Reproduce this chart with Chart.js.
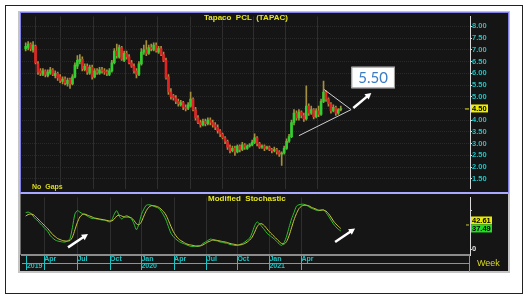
<!DOCTYPE html>
<html>
<head>
<meta charset="utf-8">
<script src="https://cdn.jsdelivr.net/npm/chart.js@4.4.1/dist/chart.umd.min.js"></script>
<style>
  body { margin: 0; width: 528px; height: 299px; background: #fff; position: relative; overflow: hidden; font-family: "Liberation Sans", Arial, sans-serif; }
  .abs { position: absolute; }
  .lbl { position: absolute; white-space: pre; font-weight: bold; line-height: 10px; }
</style>
</head>
<body>
<div class="abs" style="left:5px;top:5px;width:516px;height:287px;border:1px solid #222;"></div>
<div class="abs" style="left:18px;top:11px;width:492px;height:262px;background:#c4c4c4;"></div>
<div class="abs" style="left:20px;top:12px;width:488px;height:259px;background:#151515;"></div>
<canvas id="priceChart" class="abs" style="left:20px;top:12px;" width="489" height="181"></canvas>
<canvas id="stochChart" class="abs" style="left:20px;top:193px;" width="489" height="79"></canvas>
<div class="abs" style="left:20px;top:12px;width:487px;height:179px;border:1px solid #8282e6;border-bottom:2px solid #a9a9ff;"></div>
<div class="abs" style="left:20px;top:194px;width:1px;height:61px;background:#6c6c6c;"></div>

<div class="lbl" style="left:204px;top:13px;font-size:8px;color:#e6e622;">Tapaco  PCL  (TAPAC)</div>
<div class="lbl" style="left:32px;top:182px;font-size:7px;color:#d8d820;">No  Gaps</div>
<div class="lbl" style="left:208px;top:194px;font-size:8px;color:#e6e622;">Modified  Stochastic</div>
<div class="lbl" style="left:477px;top:258px;font-size:9px;font-weight:normal;color:#d8d820;">Week</div>

<script>
// weekly bars, Feb 2019 .. Jul 2021
const opens = [
  7.05, 7.10, 7.25, 7.00, 7.15, 6.40, 6.10, 5.95, 6.10, 5.90,
  6.00, 6.15, 5.90, 6.00, 5.85, 5.65, 5.75, 5.55, 5.75, 5.55,
  5.85, 6.30, 6.50, 6.60, 6.15, 6.30, 6.00, 6.25, 5.85, 6.10,
  6.00, 6.15, 6.10, 6.05, 5.95, 6.10, 6.45, 6.95, 6.70, 7.10,
  6.55, 6.85, 6.70, 6.45, 6.30, 6.10, 5.95, 6.40, 6.90, 7.00,
  6.85, 7.10, 7.00, 7.20, 6.90, 7.05, 6.80, 6.55, 5.85, 5.20,
  5.05, 4.95, 4.80, 4.65, 4.75, 4.55, 4.50, 4.60, 4.90, 4.45,
  4.10, 3.90, 3.80, 3.95, 3.85, 4.00, 3.90, 3.80, 3.70, 3.55,
  3.40, 3.25, 3.10, 2.85, 2.70, 2.80, 2.65, 2.90, 2.75, 2.95,
  2.80, 2.90, 2.95, 3.05, 3.25, 3.00, 2.85, 2.90, 2.80, 2.85,
  2.75, 2.70, 2.75, 2.65, 2.55, 2.60, 2.80, 3.10, 3.30, 3.90,
  4.30, 4.10, 4.35, 4.20, 4.05, 4.60, 4.30, 4.45, 4.15, 4.40,
  4.25, 4.80, 5.20, 4.90, 4.70, 4.40, 4.55, 4.30, 4.45
];
const highs = [
  7.30, 7.35, 7.30, 7.35, 7.20, 6.50, 6.20, 6.20, 6.15, 6.15,
  6.25, 6.20, 6.10, 6.05, 5.95, 5.85, 5.85, 5.80, 5.80, 5.95,
  6.45, 6.75, 6.80, 6.70, 6.40, 6.40, 6.35, 6.35, 6.20, 6.20,
  6.25, 6.25, 6.20, 6.15, 6.20, 6.55, 7.05, 7.25, 7.20, 7.15,
  6.95, 6.95, 6.80, 6.55, 6.40, 6.20, 6.50, 7.05, 7.20, 7.40,
  7.20, 7.25, 7.30, 7.30, 7.15, 7.15, 6.90, 6.65, 5.95, 5.35,
  5.10, 5.05, 4.90, 4.85, 4.80, 4.65, 4.75, 5.20, 4.95, 4.55,
  4.20, 4.00, 4.05, 4.05, 4.10, 4.10, 4.00, 3.90, 3.80, 3.60,
  3.45, 3.30, 3.15, 2.95, 2.90, 2.90, 2.95, 2.95, 3.05, 3.00,
  2.95, 3.00, 3.15, 3.42, 3.30, 3.05, 2.95, 2.95, 2.90, 2.90,
  2.80, 2.85, 2.80, 2.70, 2.65, 2.90, 3.20, 3.40, 4.00, 4.45,
  4.40, 4.45, 4.40, 4.30, 5.46, 4.70, 4.60, 4.50, 4.50, 4.60,
  4.90, 5.67, 5.25, 4.95, 4.75, 4.65, 4.60, 4.50, 4.60
];
const lows = [
  6.95, 7.00, 6.95, 6.90, 6.40, 5.95, 5.90, 5.90, 5.85, 5.85,
  5.95, 5.90, 5.80, 5.70, 5.60, 5.55, 5.50, 5.45, 5.35, 5.50,
  5.80, 6.20, 6.40, 6.10, 6.10, 5.95, 5.95, 5.75, 5.80, 5.95,
  5.95, 6.00, 5.95, 5.90, 5.90, 6.05, 6.40, 6.65, 6.65, 6.55,
  6.50, 6.60, 6.40, 6.25, 6.00, 5.80, 5.90, 6.35, 6.80, 6.75,
  6.80, 6.95, 6.95, 6.90, 6.85, 6.75, 6.50, 5.75, 5.10, 4.90,
  4.85, 4.70, 4.60, 4.60, 4.45, 4.40, 4.45, 4.55, 4.40, 4.00,
  3.85, 3.70, 3.75, 3.75, 3.80, 3.80, 3.70, 3.60, 3.45, 3.30,
  3.20, 3.00, 2.75, 2.60, 2.65, 2.50, 2.60, 2.65, 2.70, 2.75,
  2.75, 2.85, 2.90, 3.00, 2.90, 2.80, 2.80, 2.70, 2.75, 2.70,
  2.60, 2.65, 2.55, 2.45, 2.07, 2.55, 2.75, 3.05, 3.25, 3.80,
  4.00, 4.00, 4.10, 3.95, 4.00, 4.20, 4.25, 4.05, 4.10, 4.15,
  4.20, 4.75, 4.80, 4.60, 4.30, 4.35, 4.20, 4.25, 4.40
];
const closes = [
  7.15, 7.25, 7.05, 7.20, 6.45, 6.05, 6.00, 6.10, 5.95, 6.05,
  6.15, 5.95, 6.00, 5.80, 5.70, 5.75, 5.60, 5.70, 5.55, 5.85,
  6.35, 6.55, 6.60, 6.20, 6.30, 6.05, 6.25, 5.85, 6.10, 6.05,
  6.15, 6.10, 6.05, 6.00, 6.10, 6.45, 6.95, 6.75, 7.10, 6.60,
  6.85, 6.70, 6.45, 6.30, 6.10, 5.95, 6.40, 6.90, 7.00, 6.85,
  7.10, 7.05, 7.20, 6.95, 7.05, 6.80, 6.55, 5.80, 5.20, 5.00,
  4.95, 4.80, 4.70, 4.75, 4.55, 4.50, 4.65, 4.90, 4.45, 4.10,
  3.90, 3.80, 3.95, 3.85, 4.00, 3.90, 3.80, 3.70, 3.55, 3.40,
  3.25, 3.10, 2.85, 2.70, 2.80, 2.65, 2.90, 2.75, 2.95, 2.85,
  2.90, 2.95, 3.05, 3.25, 3.00, 2.85, 2.90, 2.80, 2.85, 2.75,
  2.70, 2.75, 2.65, 2.55, 2.60, 2.80, 3.10, 3.30, 3.90, 4.30,
  4.10, 4.35, 4.20, 4.05, 4.60, 4.30, 4.45, 4.15, 4.40, 4.25,
  4.80, 5.20, 4.90, 4.70, 4.40, 4.55, 4.30, 4.45, 4.50
];

// Modified Stochastic: fast (green) and slow (yellow)
const stochFast = [
  75, 76, 74, 68, 62, 58, 52, 47, 42, 36,
  28, 23, 19, 17, 16, 15, 15, 17, 22, 45,
  72, 79, 76, 73, 71, 68, 65, 63, 63, 62,
  61, 60, 60, 58, 56, 60, 72, 79, 68, 62,
  66, 69, 66, 62, 52, 40, 52, 71, 82, 90,
  91, 90, 88, 86, 84, 78, 70, 60, 46, 33,
  26, 21, 17, 14, 12, 10, 8, 6, 6, 6,
  6, 8, 12, 15, 18, 21, 20, 18, 17, 15,
  14, 13, 12, 10, 9, 8, 8, 10, 12, 15,
  19, 23, 34, 48, 56, 52, 46, 40, 33, 29,
  25, 21, 16, 11, 8, 14, 27, 45, 62, 75,
  88, 91, 92, 92, 90, 87, 84, 82, 80, 79,
  80, 81, 75, 68, 60, 52, 46, 41, 37.49
];
const stochSlow = [
  68, 71, 72, 71, 67, 62, 57, 52, 47, 42,
  36, 30, 26, 22, 20, 18, 17, 17, 18, 25,
  40, 55, 66, 71, 72, 70, 68, 66, 64, 63,
  62, 61, 60, 59, 58, 58, 62, 68, 70, 68,
  66, 66, 66, 64, 59, 52, 50, 56, 68, 79,
  86, 89, 89, 88, 86, 82, 77, 70, 59, 47,
  36, 28, 22, 18, 15, 12, 10, 9, 8, 7,
  7, 7, 9, 12, 15, 17, 19, 19, 18, 17,
  16, 15, 14, 12, 11, 10, 9, 9, 10, 12,
  15, 19, 25, 35, 46, 52, 52, 48, 42, 36,
  31, 26, 21, 16, 12, 11, 16, 28, 44, 60,
  73, 83, 88, 90, 90, 89, 86, 84, 82, 80,
  80, 80, 78, 73, 66, 58, 52, 47, 42.61
];

// date axis (week index from first bar)
const dateTicks = [0.5, 7.5, 21, 34.3, 47, 60.3, 73.6, 86, 99, 112];
const dateLabels = [['', '2019'], ['Apr'], ['Jul'], ['Oct'], ['Jan', '2020'], ['Apr'], ['Jul'], ['Oct'], ['Jan', '2021'], ['Apr']];

// drawn annotations, in (week, value)
const trendLower = [{ x: 111.0, y: 3.34 }, { x: 132.2, y: 4.45 }];
const trendUpper = [{ x: 121.2, y: 5.31 }, { x: 132.2, y: 4.45 }];
const priceArrow = [133.1, 4.52, 140.4, 5.16];
const targetBox = [132.3, 6.28, 150.0, 5.36];
const targetLabel = '5.50';
const stochArrows = [[17.2, 4, 25.3, 31.3], [125.7, 15, 133.8, 42.5]];

const weeks = closes.map((c, i) => i);
const xMin = -1.5, xMax = 180.5;
const CYAN = '#1cc4c4';
Chart.defaults.font.family = '"Liberation Sans", Arial, sans-serif';

function arrow(ctx, x1, y1, x2, y2) {
  const a = Math.atan2(y2 - y1, x2 - x1), h = 7;
  ctx.save();
  ctx.strokeStyle = '#fff';
  ctx.fillStyle = '#fff';
  ctx.lineWidth = 2.5;
  ctx.beginPath();
  ctx.moveTo(x1, y1);
  ctx.lineTo(x2 - Math.cos(a) * h * 0.7, y2 - Math.sin(a) * h * 0.7);
  ctx.stroke();
  ctx.beginPath();
  ctx.moveTo(x2, y2);
  ctx.lineTo(x2 - h * Math.cos(a - 0.5), y2 - h * Math.sin(a - 0.5));
  ctx.lineTo(x2 - h * Math.cos(a + 0.5), y2 - h * Math.sin(a + 0.5));
  ctx.closePath();
  ctx.fill();
  ctx.restore();
}

function valueBox(ctx, x, yc, w, text, bg) {
  ctx.fillStyle = bg;
  ctx.fillRect(x, yc - 4, w, 8);
  ctx.fillStyle = '#000';
  ctx.font = 'bold 7.5px "Liberation Sans", Arial';
  ctx.textBaseline = 'middle';
  ctx.textAlign = 'left';
  ctx.fillText(text, x + 1, yc + 0.5);
}

const priceOverlay = {
  id: 'priceOverlay',
  afterDraw(chart) {
    const { ctx, scales: { x, y } } = chart;
    arrow(ctx, x.getPixelForValue(priceArrow[0]), y.getPixelForValue(priceArrow[1]),
      x.getPixelForValue(priceArrow[2]), y.getPixelForValue(priceArrow[3]));

    const bx = x.getPixelForValue(targetBox[0]), by = y.getPixelForValue(targetBox[1]);
    const bw = x.getPixelForValue(targetBox[2]) - bx, bh = y.getPixelForValue(targetBox[3]) - by;
    ctx.fillStyle = '#fff';
    ctx.fillRect(bx, by, bw, bh);
    ctx.strokeStyle = '#9c9c9c';
    ctx.lineWidth = 1;
    ctx.strokeRect(bx + 0.5, by + 0.5, bw - 1, bh - 1);
    ctx.fillStyle = '#3b7cc4';
    ctx.font = '15px Lato, "Open Sans", sans-serif';
    ctx.textAlign = 'center';
    ctx.textBaseline = 'middle';
    ctx.fillText(targetLabel, bx + bw / 2, by + bh / 2 + 1);

    const last = closes[closes.length - 1];
    const ly = y.getPixelForValue(last);
    ctx.strokeStyle = '#e8e800';
    ctx.beginPath();
    ctx.moveTo(x.right - 5, ly + 0.5);
    ctx.lineTo(x.right - 1, ly + 0.5);
    ctx.stroke();
    valueBox(ctx, x.right + 1, ly, 17, last.toFixed(2), '#eeee00');
  }
};

const stochOverlay = {
  id: 'stochOverlay',
  afterDraw(chart) {
    const { ctx, scales: { x, y }, chartArea } = chart;
    stochArrows.forEach(a => arrow(ctx, x.getPixelForValue(a[0]), y.getPixelForValue(a[1]),
      x.getPixelForValue(a[2]), y.getPixelForValue(a[3])));

    // date strip rule
    ctx.strokeStyle = CYAN;
    ctx.lineWidth = 1;
    ctx.beginPath();
    ctx.moveTo(chartArea.left, chartArea.bottom + 8.5);
    ctx.lineTo(chartArea.right, chartArea.bottom + 8.5);
    ctx.moveTo(chartArea.right - 0.5, chartArea.bottom + 1);
    ctx.lineTo(chartArea.right - 0.5, chartArea.bottom + 17);
    ctx.stroke();

    const slow = stochSlow[stochSlow.length - 1], fast = stochFast[stochFast.length - 1];
    const yy = y.getPixelForValue(slow) - 8;
    ctx.strokeStyle = '#c8c83c';
    ctx.beginPath();
    ctx.moveTo(x.right - 4, yy + 4.5);
    ctx.lineTo(x.right - 1, yy + 4.5);
    ctx.stroke();
    valueBox(ctx, x.right + 1, yy, 21, slow.toFixed(2), '#e8e800');
    valueBox(ctx, x.right + 1, yy + 8, 21, fast.toFixed(2), '#22dd22');
  }
};

const monthGrid = {
  color: ctx => ctx.index === 0 ? 'rgba(0,0,0,0)' : '#2e2e2e',
};

new Chart(document.getElementById('priceChart'), {
  type: 'bar',
  data: {
    datasets: [
      { type: 'line', data: trendLower, borderColor: '#d0d0d0', borderWidth: 1, pointRadius: 0, order: 0 },
      { type: 'line', data: trendUpper, borderColor: '#d0d0d0', borderWidth: 1, pointRadius: 0, order: 0 },
      {
        data: weeks.map(i => ({ x: i, y: [opens[i], closes[i]] })),
        backgroundColor: weeks.map(i => closes[i] >= opens[i] ? '#2fd02f' : '#e02424'),
        barThickness: 2, grouped: false, order: 1
      },
      {
        data: weeks.map(i => ({ x: i, y: [lows[i], highs[i]] })),
        backgroundColor: '#a48f3e',
        barThickness: 1, grouped: false, order: 2
      }
    ]
  },
  options: {
    responsive: false,
    animation: false,
    events: [],
    layout: { padding: { left: 2, top: 1, bottom: 1, right: 0 } },
    plugins: { legend: { display: false }, tooltip: { enabled: false } },
    scales: {
      x: {
        type: 'linear', min: xMin, max: xMax, offset: false,
        afterBuildTicks: s => { s.ticks = dateTicks.map(v => ({ value: v })); },
        afterFit: s => { s.height = 0; },
        ticks: { display: false },
        grid: { ...monthGrid, drawTicks: false },
        border: { display: false }
      },
      y: {
        position: 'right', min: 1.086, max: 8.422,
        afterFit: s => { s.width = 39; },
        ticks: {
          stepSize: 0.5, includeBounds: false, color: CYAN, padding: 0,
          font: { size: 7.5, weight: 'bold' },
          callback: v => v === closes[closes.length - 1] ? '' : v.toFixed(2)
        },
        grid: { color: '#292929', tickColor: '#d8d8d8', tickLength: 2 },
        border: { color: '#d8d8d8', dash: [1, 1] }
      }
    }
  },
  plugins: [priceOverlay]
});

new Chart(document.getElementById('stochChart'), {
  type: 'line',
  data: {
    datasets: [
      { data: weeks.map(i => ({ x: i, y: stochSlow[i] })), borderColor: '#c8c83c', borderWidth: 1, pointRadius: 0, tension: 0.25 },
      { data: weeks.map(i => ({ x: i, y: stochFast[i] })), borderColor: '#2fc02f', borderWidth: 1, pointRadius: 0, tension: 0.25 }
    ]
  },
  options: {
    responsive: false,
    animation: false,
    events: [],
    layout: { padding: { left: 2, top: 1, bottom: 1, right: 0 } },
    plugins: { legend: { display: false }, tooltip: { enabled: false } },
    scales: {
      x: {
        type: 'linear', min: xMin, max: xMax, offset: false,
        afterBuildTicks: s => { s.ticks = dateTicks.map(v => ({ value: v })); },
        afterFit: s => { s.height = 16; },
        ticks: {
          autoSkip: false, maxRotation: 0, align: 'start', padding: -14,
          color: CYAN, font: { size: 7, weight: 'bold', lineHeight: 1 },
          callback: (v, i) => dateLabels[i]
        },
        grid: { ...monthGrid, tickColor: CYAN, tickLength: 15 },
        border: { color: '#8c8c8c', width: 2 }
      },
      y: {
        position: 'right', min: -11.5, max: 105.8,
        afterFit: s => { s.width = 39; },
        afterBuildTicks: s => { s.ticks = [0, 20, 40, 60, 80, 100].map(v => ({ value: v })); },
        ticks: {
          color: '#e0e0e0', padding: 0, font: { size: 7.5, weight: 'bold' },
          callback: v => v === 0 ? '0' : ''
        },
        grid: { drawOnChartArea: false, tickColor: '#d8d8d8', tickLength: 2 },
        border: { color: '#d8d8d8', dash: [1, 1] }
      }
    }
  },
  plugins: [stochOverlay]
});
</script>
</body>
</html>
